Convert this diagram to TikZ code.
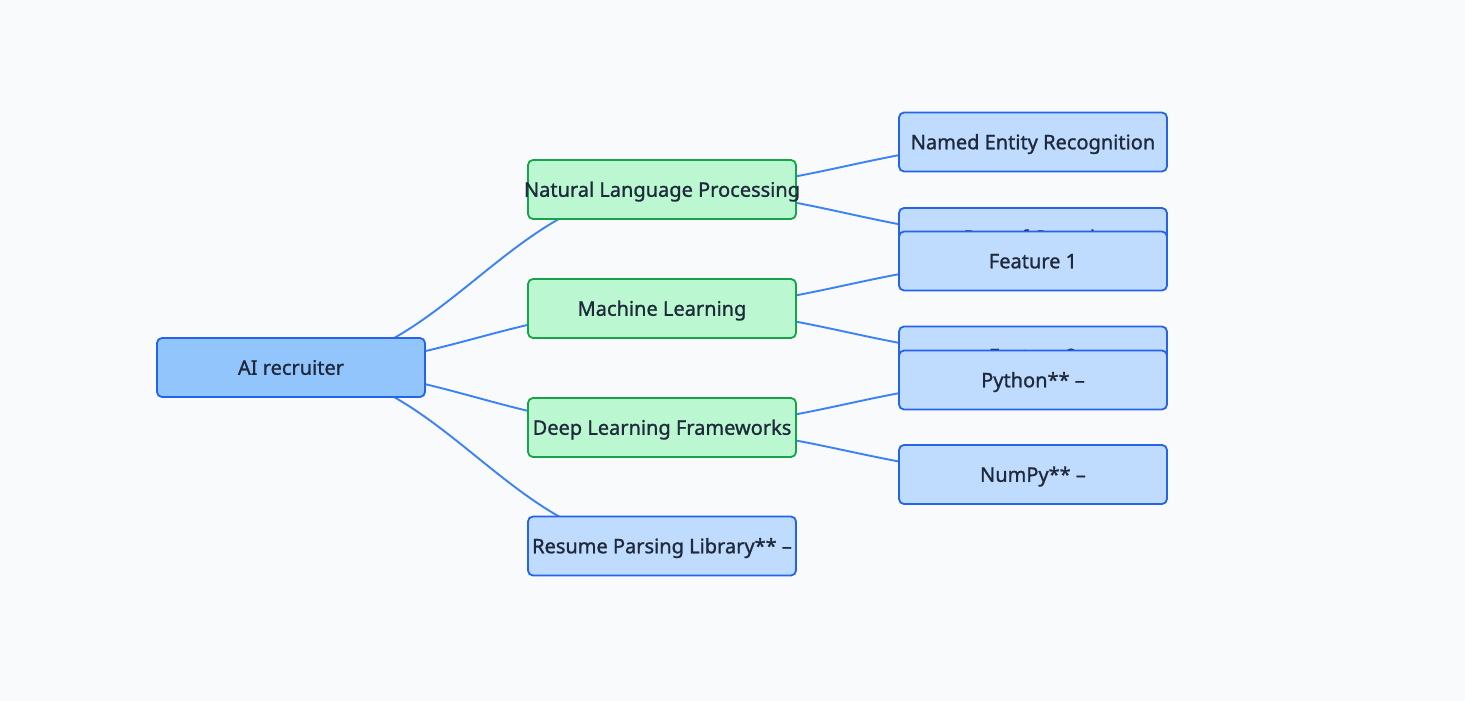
\documentclass[tikz,border=0pt]{standalone}
\usepackage{fontspec}
\setmainfont{Noto Sans}
\newfontfamily\medfont{Noto Sans}[FakeBold=1.1]
\definecolor{bgc}{HTML}{F8FAFC}
\definecolor{txt}{HTML}{1E293B}
\definecolor{rootfill}{HTML}{93C5FD}
\definecolor{blueline}{HTML}{2563EB}
\definecolor{greenfill}{HTML}{BBF7D0}
\definecolor{greenline}{HTML}{16A34A}
\definecolor{leaffill}{HTML}{BFDBFE}
\definecolor{edgec}{HTML}{3B82F6}
\pgfdeclarelayer{back}
\pgfdeclarelayer{edges}
\pgfsetlayers{back,edges,main}
\newcommand{\nt}[1]{\makebox[0pt]{#1}}
\begin{document}
\begin{tikzpicture}[x=1pt,y=-1pt,
  box/.style={draw, rounded corners=5pt, line width=1.8pt, minimum width=268pt,
    minimum height=59pt, inner sep=0pt, text height=14.5pt, text depth=0pt,
    font=\medfont\fontsize{20}{24}\selectfont, text=txt},
  rootbox/.style={box, fill=rootfill, draw=blueline},
  midbox/.style={box, fill=greenfill, draw=greenline},
  leafbox/.style={box, fill=leaffill, draw=blueline},
  link/.style={draw=edgec, line width=1.9pt}]
\begin{pgfonlayer}{back}
\fill[bgc] (0,0) rectangle (1465,701);
\end{pgfonlayer}
\useasboundingbox (0,0) rectangle (1465,701);

\node[rootbox] (root) at (291,367.5) {\nt{AI recruiter}};
\node[midbox] (nlp) at (662,189.5) {\nt{Natural Language Processing}};
\node[midbox] (ml) at (662,308.5) {\nt{Machine Learning}};
\node[midbox] (dl) at (662,427.5) {\nt{Deep Learning Frameworks}};
\node[leafbox] (res) at (662,546) {\nt{Resume Parsing Library** –}};

\node[leafbox] (ner) at (1033,142) {\nt{Named Entity Recognition}};
\node[leafbox] (pos) at (1033,237.5) {\nt{Part-of-Speech}};
\node[leafbox] (f1) at (1033,261) {\nt{Feature 1}};
\node[leafbox] (f2) at (1033,356) {\nt{Feature 2}};
\node[leafbox] (py) at (1033,380) {\nt{Python** –}};
\node[leafbox] (np) at (1033,474.5) {\nt{NumPy** –}};

\begin{pgfonlayer}{edges}
\foreach \a/\b in {root/nlp, root/ml, root/dl, root/res, nlp/ner, nlp/pos, ml/f1, ml/f2, dl/py, dl/np}{
  \draw[link] (\a.center) .. controls +(150,0) and +(-150,0) .. (\b.center);
}
\end{pgfonlayer}
\end{tikzpicture}
\end{document}
